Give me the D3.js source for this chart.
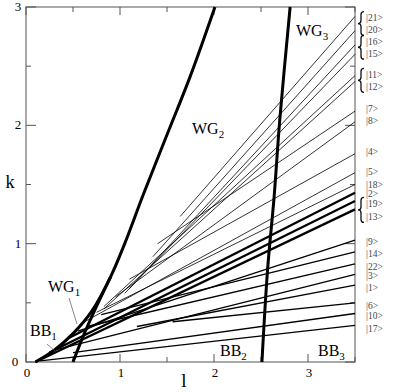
<!DOCTYPE html>
<html>
<head>
<meta charset="utf-8">
<script src="https://cdn.jsdelivr.net/npm/d3@7"></script>
<style>
  body { margin: 0; background: #fff; }
  svg text { font-family: "Liberation Serif", serif; }
</style>
</head>
<body>
<div id="chart"></div>
<script>
var width = 409, height = 392;

// state labels at the right edge, and the k value each label sits at
var stateNames = ["|21>","|20>","|16>","|15>","|11>","|12>","|7>","|8>","|4>","|5>","|18>","|2>",
                  "|19>","|13>","|9>","|14>","|22>","|3>","|1>","|6>","|10>","|17>"];
var labelK = [2.91,2.81,2.71,2.61,2.43,2.33,2.14,2.04,1.78,1.61,1.50,1.42,
              1.34,1.23,1.02,0.92,0.81,0.73,0.63,0.48,0.39,0.28];

// each state line: where it starts (l, k) and its k at l = 3.5
var startL = [1.64,1.35,1.10,1.05,0.83,0.83,1.40,0.95,1.10,0.60,0.75,0.45,
              0.25,0.10,0.55,0.80,0.65,0.30,1.18,1.56,0.50,0.15];
var startK = [1.23,0.89,0.62,0.58,0.47,0.45,1.00,0.55,0.70,0.33,0.42,0.20,
              0.08,0.00,0.26,0.40,0.30,0.10,0.30,0.34,0.08,0.01];
var endK   = [2.92,2.80,2.68,2.60,2.42,2.37,2.12,2.03,1.76,1.60,1.50,1.43,
              1.36,1.29,1.03,0.93,0.83,0.74,0.65,0.50,0.41,0.31];

var heavyStates = ["|19>","|13>","|2>"];
var mediumStates = ["|9>","|3>","|22>","|14>","|1>","|10>","|17>","|6>"];
var bracePairs = [["|21>","|20>"],["|16>","|15>"],["|11>","|12>"],["|19>","|13>"]];

// waveguide curves (l, k)
var wg2L = [0.10,0.30,0.50,0.70,0.90,1.05,1.25,1.50,1.75,2.01];
var wg2K = [0.00,0.10,0.24,0.43,0.72,1.00,1.42,1.92,2.42,3.00];
var wg1bL = [0.50,0.62,0.75,0.90];
var wg1bK = [0.00,0.24,0.47,0.72];
var wg3L = [2.51,2.57,2.64,2.70,2.81];
var wg3K = [0.00,0.78,1.40,2.05,3.00];

var xMax = 3.5;

var svg = d3.select("#chart").append("svg")
            .attr("width", width).attr("height", height);

var x = d3.scaleLinear().domain([0, 3.5]).range([26, 355]);
var y = d3.scaleLinear().domain([0, 3]).range([362, 7]);

// frame
svg.append("rect")
   .attr("x", x(0)).attr("y", y(3))
   .attr("width", x(3.5) - x(0)).attr("height", y(0) - y(3))
   .attr("fill", "none").attr("stroke", "#555").attr("stroke-width", 1);

// ticks, pointing inward on all four sides
var yTicks = d3.range(0, 3.01, 0.5);
var xTicks = d3.range(0, 3.51, 0.5);
yTicks.forEach(function(t) {
    var len = (t % 1 === 0) ? 10 : 5;
    svg.append("line").attr("x1", x(0)).attr("x2", x(0) + len)
       .attr("y1", y(t)).attr("y2", y(t)).attr("stroke", "#555");
    svg.append("line").attr("x1", x(3.5)).attr("x2", x(3.5) - len)
       .attr("y1", y(t)).attr("y2", y(t)).attr("stroke", "#555");
});
xTicks.forEach(function(t) {
    var len = (t % 1 === 0) ? 8 : 5;
    svg.append("line").attr("x1", x(t)).attr("x2", x(t))
       .attr("y1", y(0)).attr("y2", y(0) - len).attr("stroke", "#555");
    svg.append("line").attr("x1", x(t)).attr("x2", x(t))
       .attr("y1", y(3)).attr("y2", y(3) + len).attr("stroke", "#555");
});

// tick labels
[0, 1, 2, 3].forEach(function(t) {
    svg.append("text").attr("x", t === 0 ? 15 : 18).attr("y", y(t) + 4)
       .attr("text-anchor", "middle").attr("font-size", 13).text(t);
    svg.append("text").attr("x", x(t) + 1).attr("y", 377)
       .attr("text-anchor", "middle").attr("font-size", 13).text(t);
});

// axis titles
svg.append("text").attr("x", 10).attr("y", 188).attr("text-anchor", "middle")
   .attr("font-size", 18).text("k");
svg.append("text").attr("x", 184).attr("y", 387).attr("text-anchor", "middle")
   .attr("font-size", 19).text("l");

// state lines
var g = svg.append("g");
stateNames.forEach(function(name, i) {
    var w = heavyStates.indexOf(name) >= 0 ? 2.3 : (mediumStates.indexOf(name) >= 0 ? 1.3 : 0.8);
    g.append("line")
     .attr("x1", x(startL[i])).attr("y1", y(startK[i]))
     .attr("x2", x(xMax)).attr("y2", y(endK[i]))
     .attr("stroke", "#000").attr("stroke-width", w);
});

// waveguide curves
var curve = d3.line().x(function(d) { return x(d[0]); }).y(function(d) { return y(d[1]); })
              .curve(d3.curveCatmullRom);
function pts(ls, ks) { return ls.map(function(l, i) { return [l, ks[i]]; }); }
[[wg2L, wg2K], [wg1bL, wg1bK], [wg3L, wg3K]].forEach(function(c) {
    svg.append("path").attr("d", curve(pts(c[0], c[1])))
       .attr("fill", "none").attr("stroke", "#000").attr("stroke-width", 3);
});

// curve labels
function subLabel(tx, ty, main, sub) {
    var t = svg.append("text").attr("x", tx).attr("y", ty).attr("font-size", 16);
    t.append("tspan").text(main);
    t.append("tspan").attr("dy", 4).attr("font-size", 11).text(sub);
}
subLabel(48, 292, "WG", "1");
subLabel(192, 134, "WG", "2");
subLabel(296, 36, "WG", "3");
subLabel(30, 336, "BB", "1");
subLabel(220, 356, "BB", "2");
subLabel(318, 356, "BB", "3");

// leader lines for WG1 and BB1
svg.append("line").attr("x1", 69).attr("y1", 298).attr("x2", 77).attr("y2", 324)
   .attr("stroke", "#555").attr("stroke-width", 0.7);
svg.append("line").attr("x1", 47).attr("y1", 344).attr("x2", 55).attr("y2", 351)
   .attr("stroke", "#555").attr("stroke-width", 0.7);

// right-hand state labels
stateNames.forEach(function(name, i) {
    svg.append("text").attr("x", 366).attr("y", y(labelK[i]) + 3.5)
       .attr("font-family", "Liberation Sans, sans-serif")
       .attr("font-size", 9.5).attr("fill", "#444").text(name);
});
// curly braces grouping near-degenerate pairs
bracePairs.forEach(function(p) {
    var top = y(labelK[stateNames.indexOf(p[0])]) - 6,
        bot = y(labelK[stateNames.indexOf(p[1])]) + 6,
        mid = (top + bot) / 2, x0 = 364, xb = 361, xt = 358;
    var d = "M" + x0 + "," + top +
            " Q" + xb + "," + top + " " + xb + "," + (top + 3) +
            " L" + xb + "," + (mid - 3) +
            " Q" + xb + "," + mid + " " + xt + "," + mid +
            " Q" + xb + "," + mid + " " + xb + "," + (mid + 3) +
            " L" + xb + "," + (bot - 3) +
            " Q" + xb + "," + bot + " " + x0 + "," + bot;
    svg.append("path").attr("d", d).attr("fill", "none")
       .attr("stroke", "#111").attr("stroke-width", 1.3);
});
</script>
</body>
</html>
